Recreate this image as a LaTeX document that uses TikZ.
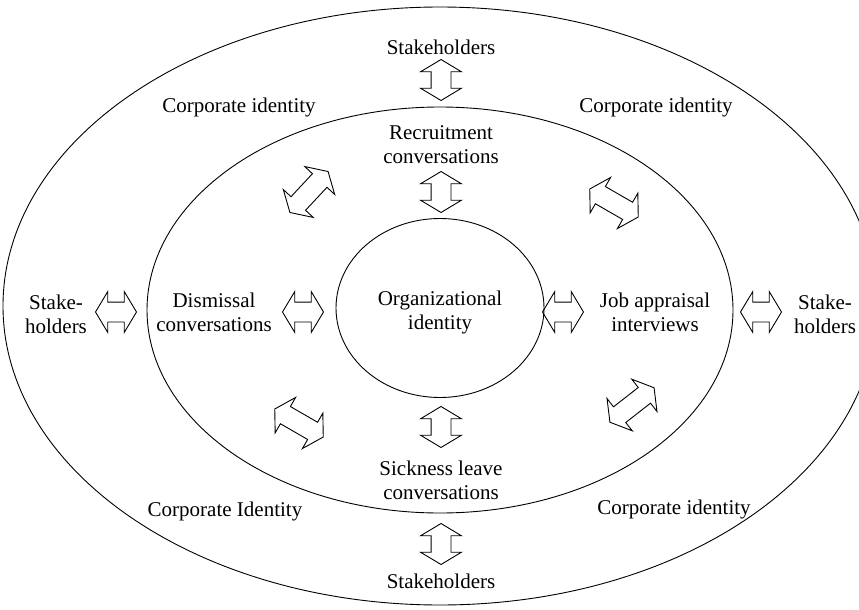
\documentclass[tikz,border=0pt]{standalone}
\usepackage{fontspec}
\setmainfont{Liberation Serif}
\usetikzlibrary{shapes.arrows,shapes.geometric}
\begin{document}
\begin{tikzpicture}[x=1pt,y=-1pt,
  lbl/.style={align=center,inner sep=0pt,font=\fontsize{21}{24}\selectfont},
  ring/.style={draw,line width=0.9pt},
  dbl/.style={double arrow,draw,line width=0.9pt,inner xsep=0pt,inner ysep=9.5pt,
    minimum width=40pt,minimum height=41pt,
    double arrow head extend=10.5pt,double arrow tip angle=118},
  dbllong/.style={dbl,minimum height=56pt}]
\useasboundingbox (0,0) rectangle (859,610);

% three nested levels
\draw[ring] (440,306) ellipse [x radius=437, y radius=299];
\draw[ring] (440,310) ellipse [x radius=293, y radius=203];
\node[ring,ellipse,minimum width=208pt,minimum height=179pt,inner sep=0pt] (org) at (440,308) {};

% labels
\node[lbl] (org-t) at (440,312) {Organizational\\identity};
\node[lbl] (sh-top) at (441,47) {Stakeholders};
\node[lbl] (sh-bot) at (441,581) {Stakeholders};
\node[lbl] (sh-left) at (56,314) {Stake-\\holders};
\node[lbl] (sh-right) at (825,314) {Stake-\\holders};
\node[lbl] (ci-tl) at (239,107) {Corporate identity};
\node[lbl] (ci-tr) at (656,107) {Corporate identity};
\node[lbl] (ci-bl) at (225,511) {Corporate Identity};
\node[lbl] (ci-br) at (674,509) {Corporate identity};
\node[lbl] (rec) at (441,145) {Recruitment\\conversations};
\node[lbl] (dis) at (214,312) {Dismissal\\conversations};
\node[lbl] (job) at (655,312) {Job appraisal\\interviews};
\node[lbl] (sick) at (441,480) {Sickness leave\\conversations};

% block arrows between the levels
\node[dbl,rotate=90] (a-top-out) at (441,80) {};
\node[dbl,rotate=90] (a-top-in) at (441,192) {};
\node[dbl,rotate=90] (a-bot-in) at (441,427) {};
\node[dbl,rotate=90] (a-bot-out) at (441,544) {};
\node[dbl] (a-left-out) at (116,312) {};
\node[dbl] (a-left-in) at (303,312) {};
\node[dbl] (a-right-in) at (563,312) {};
\node[dbl] (a-right-out) at (761,312) {};
\node[dbllong,rotate=47] (a-tl) at (309,192) {};
\node[dbllong,rotate=-30] (a-tr) at (614,203) {};
\node[dbllong,rotate=-30] (a-bl) at (299,423) {};
\node[dbllong,rotate=38] (a-br) at (632,405) {};
\end{tikzpicture}
\end{document}
